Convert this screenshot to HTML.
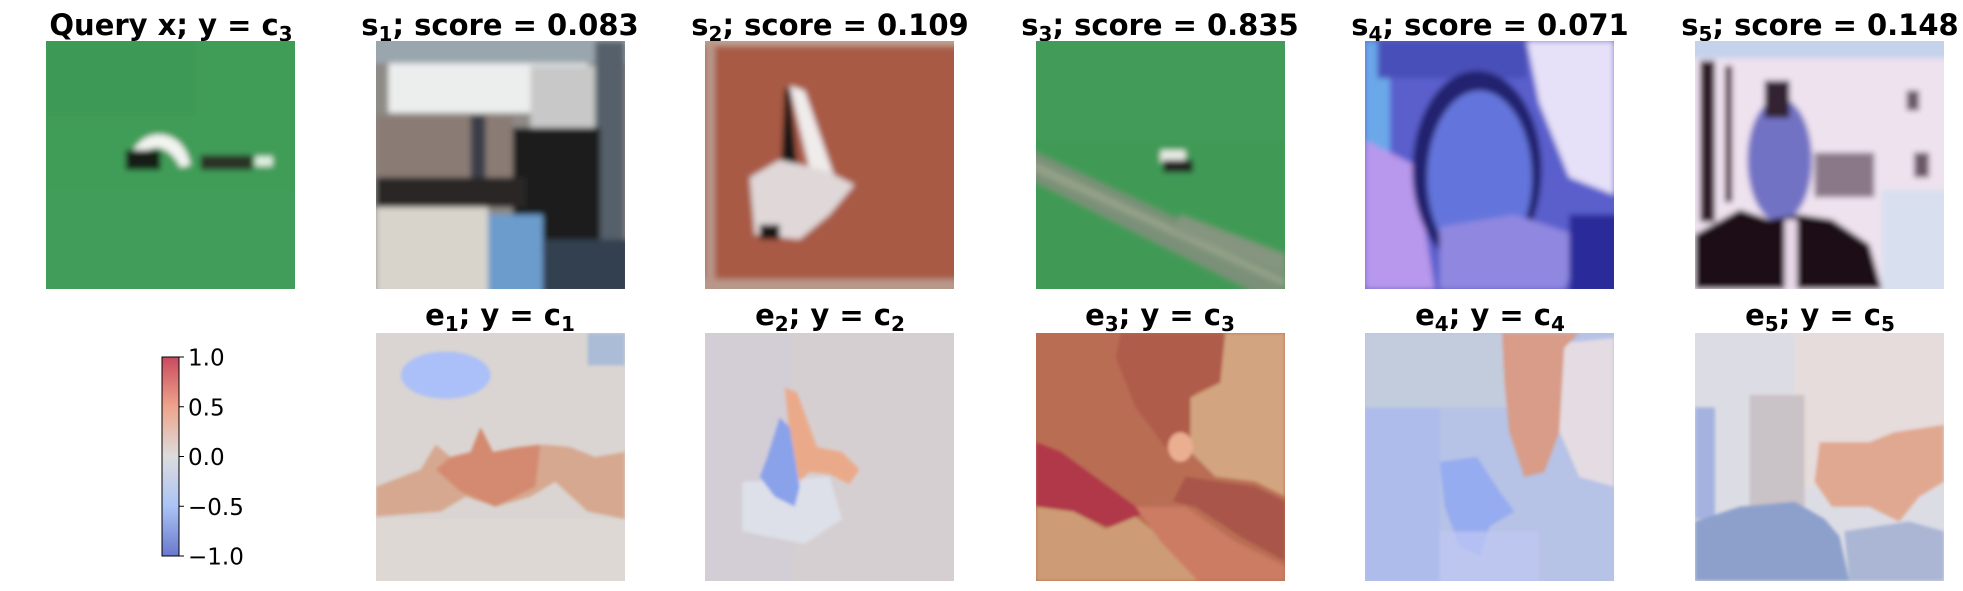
<!DOCTYPE html>
<html><head><meta charset="utf-8"><style>
html,body{margin:0;padding:0;background:#fff;}
svg{display:block;font-family:"DejaVu Sans","Liberation Sans",sans-serif;}
</style></head><body>
<svg id="fig" width="1963" height="591" viewBox="0 0 1963 591" xmlns="http://www.w3.org/2000/svg">
<defs>
<filter id="blur" x="-5%" y="-5%" width="110%" height="110%"><feGaussianBlur stdDeviation="1.2"/></filter>
<filter id="blur2"><feGaussianBlur stdDeviation="0.6"/></filter>
<clipPath id="clip"><rect x="0" y="0" width="100" height="100"/></clipPath>
<linearGradient id="cw" x1="0" y1="0" x2="0" y2="1">
<stop offset="0" stop-color="#c94a5e"/><stop offset="0.25" stop-color="#eea48c"/>
<stop offset="0.5" stop-color="#dcdcdc"/><stop offset="0.75" stop-color="#aac4f6"/>
<stop offset="1" stop-color="#6a78cc"/></linearGradient>
</defs>
<g id="titles" font-weight="bold" font-size="29" text-anchor="middle" fill="#000">
<text x="171" y="35">Query x; y = c<tspan font-size="20" dy="6">3</tspan></text>
<text x="500" y="35">s<tspan font-size="20" dy="6">1</tspan><tspan dy="-6">; score = 0.083</tspan></text>
<text x="830" y="35">s<tspan font-size="20" dy="6">2</tspan><tspan dy="-6">; score = 0.109</tspan></text>
<text x="1160" y="35">s<tspan font-size="20" dy="6">3</tspan><tspan dy="-6">; score = 0.835</tspan></text>
<text x="1490" y="35">s<tspan font-size="20" dy="6">4</tspan><tspan dy="-6">; score = 0.071</tspan></text>
<text x="1820" y="35">s<tspan font-size="20" dy="6">5</tspan><tspan dy="-6">; score = 0.148</tspan></text>
<text x="500" y="325">e<tspan font-size="20" dy="6">1</tspan><tspan dy="-6">; y = c</tspan><tspan font-size="20" dy="6">1</tspan></text>
<text x="830" y="325">e<tspan font-size="20" dy="6">2</tspan><tspan dy="-6">; y = c</tspan><tspan font-size="20" dy="6">2</tspan></text>
<text x="1160" y="325">e<tspan font-size="20" dy="6">3</tspan><tspan dy="-6">; y = c</tspan><tspan font-size="20" dy="6">3</tspan></text>
<text x="1490" y="325">e<tspan font-size="20" dy="6">4</tspan><tspan dy="-6">; y = c</tspan><tspan font-size="20" dy="6">4</tspan></text>
<text x="1820" y="325">e<tspan font-size="20" dy="6">5</tspan><tspan dy="-6">; y = c</tspan><tspan font-size="20" dy="6">5</tspan></text>
</g>

<g transform="translate(46,41) scale(2.49,2.48)" clip-path="url(#clip)">
<g filter="url(#blur)">
<rect x="-5" y="-5" width="110" height="110" fill="#3f9d58"/>
<rect x="0" y="0" width="60" height="30" fill="#3b9452" opacity="0.3"/>
<rect x="0" y="60" width="100" height="40" fill="#44a260" opacity="0.3"/>
<path d="M33,48 Q38,36 48,38 Q56,40 58,50 L54,51 Q50,43 44,43 Q38,44 37,49 Z" fill="#f2f4f0"/>
<rect x="32" y="44" width="14" height="8" fill="#151c16"/>
<rect x="62" y="46" width="21" height="6" fill="#2a3028"/>
<rect x="84" y="46.5" width="7" height="4" fill="#e0efe0"/>
</g></g>

<g transform="translate(376,41) scale(2.49,2.48)" clip-path="url(#clip)">
<g filter="url(#blur)">
<rect x="-5" y="-5" width="110" height="110" fill="#8e8a86"/>
<rect x="-5" y="-5" width="110" height="14" fill="#9aa6ae"/>
<rect x="5" y="9" width="80" height="20" fill="#eceeee"/>
<rect x="62" y="10" width="30" height="35" fill="#c8c8c8"/>
<rect x="88" y="0" width="12" height="100" fill="#55606a"/>
<rect x="0" y="30" width="55" height="35" fill="#8a7c74"/>
<rect x="38" y="30" width="6" height="30" fill="#3a3c48"/>
<rect x="55" y="35" width="35" height="50" fill="#1c1c1e"/>
<rect x="0" y="55" width="60" height="12" fill="#2a2826"/>
<rect x="0" y="67" width="45" height="35" fill="#d8d4cc"/>
<rect x="45" y="70" width="22" height="32" fill="#6c9ccc"/>
<rect x="67" y="80" width="35" height="22" fill="#304050"/>
</g></g>

<g transform="translate(705,41) scale(2.49,2.48)" clip-path="url(#clip)">
<g filter="url(#blur)">
<rect x="-5" y="-5" width="110" height="110" fill="#a85a44"/>
<rect x="-5" y="-5" width="110" height="7" fill="#c0a092"/>
<rect x="-5" y="96" width="110" height="10" fill="#b89888"/>
<rect x="0" y="0" width="4" height="100" fill="#b8968a"/>
<path d="M34,18 L40,20 L52,55 L44,60 Z" fill="#f0ecec"/>
<path d="M32,20 L34,18 L38,60 L30,62 Z" fill="#181414"/>
<path d="M18,55 L30,48 L48,52 L60,58 L50,70 L38,80 L20,78 Z" fill="#e0d8d8"/>
<rect x="22" y="74" width="8" height="6" fill="#1a1414"/>
</g></g>

<g transform="translate(1036,41) scale(2.49,2.48)" clip-path="url(#clip)">
<g filter="url(#blur)">
<rect x="-5" y="-5" width="110" height="110" fill="#3f9a56"/>
<rect x="0" y="0" width="100" height="40" fill="#469c5c" opacity="0.5"/>
<path d="M-2,44 L100,92 L100,100 L95,105 L-2,56 Z" fill="#7a9078"/>
<path d="M-2,48 L100,96 L100,99 L-2,52 Z" fill="#a0a890" opacity="0.7"/>
<path d="M58,70 L100,86 L100,94 L55,76 Z" fill="#85957f"/>
<rect x="50" y="44" width="10" height="5" fill="#e8ece4"/>
<rect x="51" y="48" width="12" height="5" fill="#202420"/>
</g></g>

<g transform="translate(1365,41) scale(2.49,2.48)" clip-path="url(#clip)">
<g filter="url(#blur)">
<rect x="-5" y="-5" width="110" height="110" fill="#5a5ecc"/>
<rect x="0" y="0" width="10" height="60" fill="#6aa8ea"/>
<path d="M0,40 L20,50 L28,100 L0,100 Z" fill="#b898ec"/>
<rect x="5" y="0" width="60" height="15" fill="#4a50b8"/>
<path d="M65,0 L100,0 L100,62 L82,55 L70,25 Z" fill="#e6e0f8"/>
<ellipse cx="45" cy="52" rx="26" ry="40" fill="#222470"/>
<ellipse cx="46" cy="55" rx="21" ry="35" fill="#6474dc"/>
<path d="M30,75 L60,70 L90,80 L80,100 L30,100 Z" fill="#9088e0"/>
<rect x="82" y="70" width="20" height="32" fill="#2a2a9a"/>
</g></g>

<g transform="translate(1695,41) scale(2.49,2.48)" clip-path="url(#clip)">
<g filter="url(#blur)">
<rect x="-5" y="-5" width="110" height="110" fill="#efe2ef"/>
<rect x="-5" y="-5" width="110" height="12" fill="#c4d2ea"/>
<rect x="2" y="8" width="6" height="65" fill="#301a28"/>
<rect x="12" y="10" width="3" height="55" fill="#5a4050"/>
<rect x="48" y="45" width="24" height="18" fill="#8a7888"/>
<rect x="88" y="45" width="6" height="10" fill="#6a5866"/>
<rect x="85" y="20" width="5" height="8" fill="#6a5866"/>
<ellipse cx="34" cy="48" rx="13" ry="25" fill="#7272c4"/>
<rect x="28" y="16" width="10" height="15" fill="#302030"/>
<path d="M0,78 L18,68 L30,72 L42,70 L55,72 L70,82 L75,100 L0,100 Z" fill="#1e0e16"/>
<rect x="36" y="72" width="5" height="28" fill="#e8d8e8"/>
<rect x="75" y="60" width="28" height="42" fill="#d8e0f0"/>
</g></g>

<g transform="translate(376,333) scale(2.49,2.48)" clip-path="url(#clip)">
<rect x="0" y="0" width="100" height="100" fill="#dad5d2"/>
<rect x="0" y="75" width="100" height="25" fill="#ddd8d4"/>
<g filter="url(#blur2)">
<rect x="85" y="0" width="15" height="13" fill="#aabcd6"/>
<ellipse cx="28" cy="17" rx="18" ry="9.5" fill="#abc0f8"/>
<path d="M0,62 L18,55 L24,45 L30,50 L38,48 L42,38 L47,48 L57,46 L68,45 L78,46 L88,50 L100,48 L100,75 L85,72 L72,60 L62,66 L48,70 L36,66 L26,72 L0,74 Z" fill="#d6a890"/>
<path d="M24,55 L30,50 L38,48 L42,38 L47,48 L57,46 L66,45 L64,62 L48,70 L34,64 Z" fill="#d48a70"/>
</g></g>

<g transform="translate(705,333) scale(2.49,2.48)" clip-path="url(#clip)">
<rect x="0" y="0" width="100" height="100" fill="#d6cfd1"/>
<g filter="url(#blur2)">
<rect x="0" y="0" width="35" height="100" fill="#d0ccd8" opacity="0.6"/>
<path d="M15,60 L50,58 L55,75 L40,85 L15,80 Z" fill="#dde0e8"/>
<path d="M32,22 L37,24 L45,46 L55,48 L62,55 L58,61 L50,57 L42,56 L38,60 L34,42 Z" fill="#eaaa8a"/>
<path d="M30,34 L34,38 L38,62 L36,70 L28,66 L22,58 L25,50 Z" fill="#8aa2ea"/>
</g></g>

<g transform="translate(1036,333) scale(2.49,2.48)" clip-path="url(#clip)">
<rect x="0" y="0" width="100" height="100" fill="#b96e53"/>
<g filter="url(#blur2)">
<path d="M34,0 L76,0 L74,20 L64,24 L60,50 L52,46 L40,30 L32,10 Z" fill="#b05c4c"/>
<path d="M76,0 L100,0 L100,66 L88,60 L72,58 L62,48 L62,26 L74,20 Z" fill="#d2a47f"/>
<path d="M0,44 L10,48 L40,70 L44,70 L38,78 L28,78 L15,72 L0,70 Z" fill="#b03848"/>
<path d="M0,70 L15,72 L28,79 L40,74 L55,86 L66,100 L0,100 Z" fill="#cd9b74"/>
<path d="M40,70 L60,70 L80,84 L100,94 L100,100 L65,100 L50,84 Z" fill="#cc7c64"/>
<path d="M60,58 L88,62 L100,68 L100,92 L82,82 L64,70 L55,68 Z" fill="#a9554a"/>
<ellipse cx="58" cy="46" rx="5" ry="6" fill="#eaae90"/>
</g></g>

<g transform="translate(1365,333) scale(2.49,2.48)" clip-path="url(#clip)">
<rect x="0" y="0" width="100" height="100" fill="#b6c2e6"/>
<g filter="url(#blur2)">
<rect x="0" y="0" width="60" height="30" fill="#c2ccdc"/>
<rect x="0" y="30" width="30" height="70" fill="#aebcec"/>
<path d="M70,5 L100,2 L100,62 L86,58 L76,35 Z" fill="#e4dce2"/>
<path d="M55,0 L86,0 L80,6 L78,40 L72,56 L64,58 L58,40 L56,20 Z" fill="#d89c88"/>
<path d="M30,52 L45,50 L54,64 L60,72 L50,78 L46,90 L38,86 L32,70 Z" fill="#96acf0"/>
<rect x="30" y="80" width="40" height="20" fill="#c0c8f4" opacity="0.7"/>
</g></g>

<g transform="translate(1695,333) scale(2.49,2.48)" clip-path="url(#clip)">
<rect x="0" y="0" width="100" height="100" fill="#dcdce4"/>
<g filter="url(#blur2)">
<rect x="40" y="0" width="60" height="62" fill="#e6dcdc"/>
<rect x="0" y="30" width="8" height="45" fill="#a4b2e0"/>
<rect x="22" y="25" width="22" height="48" fill="#c9c2c6"/>
<path d="M50,44 L70,44 L80,40 L100,37 L100,60 L90,66 L82,76 L70,70 L55,70 L48,60 Z" fill="#e0a890"/>
<path d="M0,76 L18,70 L40,68 L52,75 L58,82 L62,100 L0,100 Z" fill="#8da0cc"/>
<path d="M60,80 L86,76 L100,80 L100,100 L62,100 Z" fill="#aab6d4"/>
</g></g>

<g>
<rect x="162" y="357" width="17" height="199" fill="url(#cw)" stroke="#000" stroke-width="1"/>
<g id="cbticks"></g>
</g>
</svg>
<script>
const cbTickValues = [1.0, 0.5, 0.0, -0.5, -1.0];
const cbTickLabels = ["1.0", "0.5", "0.0", "\u22120.5", "\u22121.0"];
const cbMin = -1.0, cbMax = 1.0;
(function(){
  const ns = "http://www.w3.org/2000/svg";
  const g = document.getElementById("cbticks");
  const top = 357, bot = 556;
  const yScale = v => bot - (v - cbMin) / (cbMax - cbMin) * (bot - top);
  cbTickValues.forEach((v, i) => {
    const y = yScale(v);
    const t = document.createElementNS(ns, "line");
    t.setAttribute("x1", 179); t.setAttribute("x2", 184);
    t.setAttribute("y1", y); t.setAttribute("y2", y);
    t.setAttribute("stroke", "#000"); t.setAttribute("stroke-width", "1");
    
    
    g.appendChild(t);
    const tx = document.createElementNS(ns, "text");
    tx.setAttribute("x", 188); tx.setAttribute("y", y + 8.5);
    tx.setAttribute("font-size", "23"); tx.setAttribute("fill", "#000");
    tx.textContent = cbTickLabels[i];
    
    
    g.appendChild(tx);
  });
})();
</script>
</body></html>
